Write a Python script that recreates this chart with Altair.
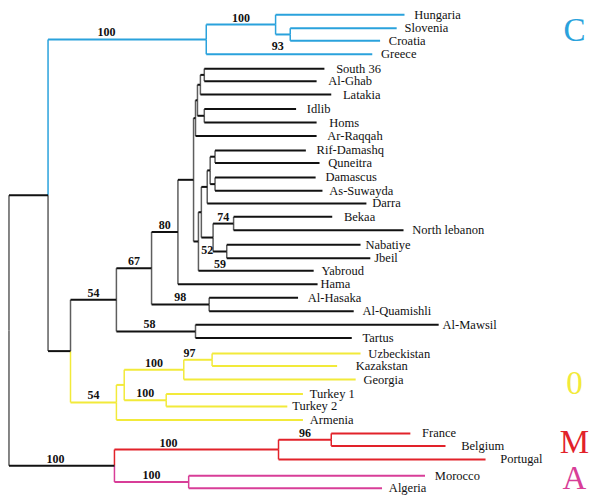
import altair as alt
import pandas as pd

# ---------------- tree ----------------
# node name, parent, depth (distance from root, figure units), clade
node_name = [
    "root", "A", "C1", "C2", "Hungaria", "C3", "Slovenia", "Croatia", "Greece",
    "B", "N54", "N67", "N80", "S", "U5", "U4", "U2", "U1", "South 36", "Al-Ghab",
    "Latakia", "U3", "Idlib", "Homs", "Ar-Raqqah", "L", "D1", "D2", "D3", "D4",
    "Rif-Damashq", "Quneitra", "D5", "Damascus", "As-Suwayda", "Darra", "N52",
    "N74", "Bekaa", "North lebanon", "N59", "Nabatiye", "Jbeil", "Yabroud", "Hama",
    "N98", "Al-Hasaka", "Al-Quamishli", "N58", "Al-Mawsil", "Tartus",
    "Y1", "Y2", "Y3", "Y4", "Uzbeckistan", "Kazakstan", "Georgia", "Y5",
    "Turkey 1", "Turkey 2", "Armenia",
    "MA", "M1", "M2", "France", "Belgium", "Portugal", "A1", "Morocco", "Algeria",
]
node_parent = [
    None, "root", "A", "C1", "C2", "C2", "C3", "C3", "C1",
    "A", "B", "N54", "N67", "N80", "S", "U5", "U4", "U2", "U1", "U1",
    "U2", "U4", "U3", "U3", "U5", "S", "L", "D1", "D2", "D3",
    "D4", "D4", "D3", "D5", "D5", "D2", "D1",
    "N52", "N74", "N74", "N52", "N59", "N59", "L", "N80",
    "N67", "N98", "N98", "N54", "N58", "N58",
    "B", "Y1", "Y2", "Y3", "Y4", "Y4", "Y3", "Y2",
    "Y5", "Y5", "Y1",
    "root", "MA", "M1", "M2", "M2", "M1", "MA", "A1", "A1",
]
node_depth = [
    2, 42, 204, 275, 407, 290, 399, 382, 374,
    65, 112, 148, 175, 191, 193, 195, 198, 202, 325, 317,
    332, 202, 296, 317, 317, 196, 199, 205, 208, 213,
    306, 320, 213, 316, 323, 368, 211,
    232, 333, 406, 225, 362, 372, 314, 318,
    207, 298, 355, 193, 442, 353,
    112, 120, 181, 210, 362, 338, 357, 163,
    303, 287, 303,
    110, 278, 332, 413, 449, 490, 186, 428, 384,
]
node_clade = (
    ["k", "k"] + ["c"] * 7
    + ["k"] * 42
    + ["y"] * 11
    + ["k"] + ["r"] * 5 + ["m"] * 3
)

# leaves, top to bottom, with their row position
leaf_names = [
    "Hungaria", "Slovenia", "Croatia", "Greece", "South 36", "Al-Ghab", "Latakia",
    "Idlib", "Homs", "Ar-Raqqah", "Rif-Damashq", "Quneitra", "Damascus",
    "As-Suwayda", "Darra", "Bekaa", "North lebanon", "Nabatiye", "Jbeil",
    "Yabroud", "Hama", "Al-Hasaka", "Al-Quamishli", "Al-Mawsil", "Tartus",
    "Uzbeckistan", "Kazakstan", "Georgia", "Turkey 1", "Turkey 2", "Armenia",
    "France", "Belgium", "Portugal", "Morocco", "Algeria",
]
leaf_rows = [
    4, 18, 31, 45, 60, 73, 87, 102, 116, 130, 145, 158, 173, 187, 200, 214, 228,
    243, 257, 270, 284, 298, 312, 326, 340, 356, 369, 383, 398, 411, 425, 439,
    452, 466, 483, 496,
]
# gap between branch tip and its label (layout)
label_gap = [
    10, 8, 9, 9, 12, 12, 12, 11, 13, 11, 11, 9, 10, 7, 6, 12, 9, 5, 4, 8, 3, 10,
    9, 4, 11, 8, 19, 8, 7, 5, 7, 12, 16, 15, 10, 7,
]

# bootstrap support values
boot_nodes = ["C1", "C2", "C3", "N54", "N67", "N80", "N98", "N58", "N74", "N52",
              "N59", "Y1", "Y3", "Y4", "Y5", "MA", "M1", "M2", "A1"]
boot_values = ["100", "100", "93", "54", "67", "80", "98", "58", "74", "52",
               "59", "54", "100", "97", "100", "100", "100", "96", "100"]
boot_below = ["C3", "N52", "N59"]
boot_frac = {"C1": 0.37, "C3": 0.15, "N58": 0.42, "Y4": 0.2, "MA": 0.44, "M1": 0.33}

clade_letters = {"c": "C", "y": "0", "r": "M", "m": "A"}

# ---------------- layout ----------------
depth = dict(zip(node_name, node_depth))
parent = dict(zip(node_name, node_parent))
clade = dict(zip(node_name, node_clade))
row = dict(zip(leaf_names, leaf_rows))
children = {}
for n, p in zip(node_name, node_parent):
    if p is not None:
        children.setdefault(p, []).append(n)


def get_row(n):
    if n not in row:
        ch = children[n]
        row[n] = sum(get_row(c) for c in ch) / len(ch)
    return row[n]


for n in node_name:
    get_row(n)

hrows, vrows = [], []
for n in node_name:
    p = parent[n]
    if p is None:
        continue
    hrows.append({"x": depth[p], "x2": depth[n], "y": row[n], "col": clade[n]})
    vc = "kv" if clade[n] == "k" else clade[n]
    vrows.append({"x": depth[p], "y": row[p], "y2": row[n], "col": vc})
hdf = pd.DataFrame(hrows)
vdf = pd.DataFrame(vrows)

ldf = pd.DataFrame({
    "name": leaf_names,
    "lx": [depth[n] + g for n, g in zip(leaf_names, label_gap)],
    "y": [row[n] for n in leaf_names],
})

brows = []
for n, v in zip(boot_nodes, boot_values):
    p = parent[n]
    f = boot_frac.get(n, 0.5)
    brows.append({"x": depth[p] + f * (depth[n] - depth[p]), "y": row[n], "t": v,
                  "below": n in boot_below})
bdf = pd.DataFrame(brows)

crow = []
for c, letter in clade_letters.items():
    ys = [row[l] for l in leaf_names if clade[l] == c]
    crow.append({"x": 581, "y": sum(ys) / len(ys), "t": letter, "col": c})
cdf = pd.DataFrame(crow)

xs = alt.Scale(domain=[1, 599], zero=False, nice=False)
ysc = alt.Scale(domain=[-3, 503], zero=False, nice=False, reverse=True)
cscale = alt.Scale(domain=["k", "kv", "c", "y", "r", "m"],
                   range=["#111111", "#5e5e5e", "#2aa2dc", "#f2ea3a", "#e2222a", "#d83e98"])

hlines = alt.Chart(hdf).mark_rule(strokeWidth=2).encode(
    x=alt.X("x:Q", scale=xs, axis=None),
    x2="x2:Q",
    y=alt.Y("y:Q", scale=ysc, axis=None),
    color=alt.Color("col:N", scale=cscale, legend=None),
)
vlines = alt.Chart(vdf).mark_rule(strokeWidth=1.5).encode(
    x=alt.X("x:Q", scale=xs, axis=None),
    y=alt.Y("y:Q", scale=ysc, axis=None),
    y2="y2:Q",
    color=alt.Color("col:N", scale=cscale, legend=None),
)
leaf_text = alt.Chart(ldf).mark_text(
    align="left", baseline="middle", font="Liberation Serif", fontSize=12.5, color="#111111"
).encode(
    x=alt.X("lx:Q", scale=xs, axis=None),
    y=alt.Y("y:Q", scale=ysc, axis=None),
    text="name:N",
)
boot_above = alt.Chart(bdf[~bdf["below"]]).mark_text(
    align="center", baseline="alphabetic", dy=-3, font="Liberation Serif",
    fontSize=12, fontWeight="bold", color="#111111"
).encode(
    x=alt.X("x:Q", scale=xs, axis=None),
    y=alt.Y("y:Q", scale=ysc, axis=None),
    text="t:N",
)
boot_under = alt.Chart(bdf[bdf["below"]]).mark_text(
    align="center", baseline="alphabetic", dy=16, font="Liberation Serif",
    fontSize=12, fontWeight="bold", color="#111111"
).encode(
    x=alt.X("x:Q", scale=xs, axis=None),
    y=alt.Y("y:Q", scale=ysc, axis=None),
    text="t:N",
)
letters = alt.Chart(cdf).mark_text(
    align="center", baseline="middle", dy=-3, font="Liberation Serif", fontSize=33
).encode(
    x=alt.X("x:Q", scale=xs, axis=None),
    y=alt.Y("y:Q", scale=ysc, axis=None),
    text="t:N",
    color=alt.Color("col:N", scale=cscale, legend=None),
)

chart = alt.layer(vlines, hlines, leaf_text, boot_above, boot_under, letters).properties(
    width=584, height=487, padding=0,
    autosize=alt.AutoSizeParams(type="none"),
    background="white",
).configure_view(strokeWidth=0)

chart.save("out.html", embed_options={"renderer": "svg", "actions": False})
